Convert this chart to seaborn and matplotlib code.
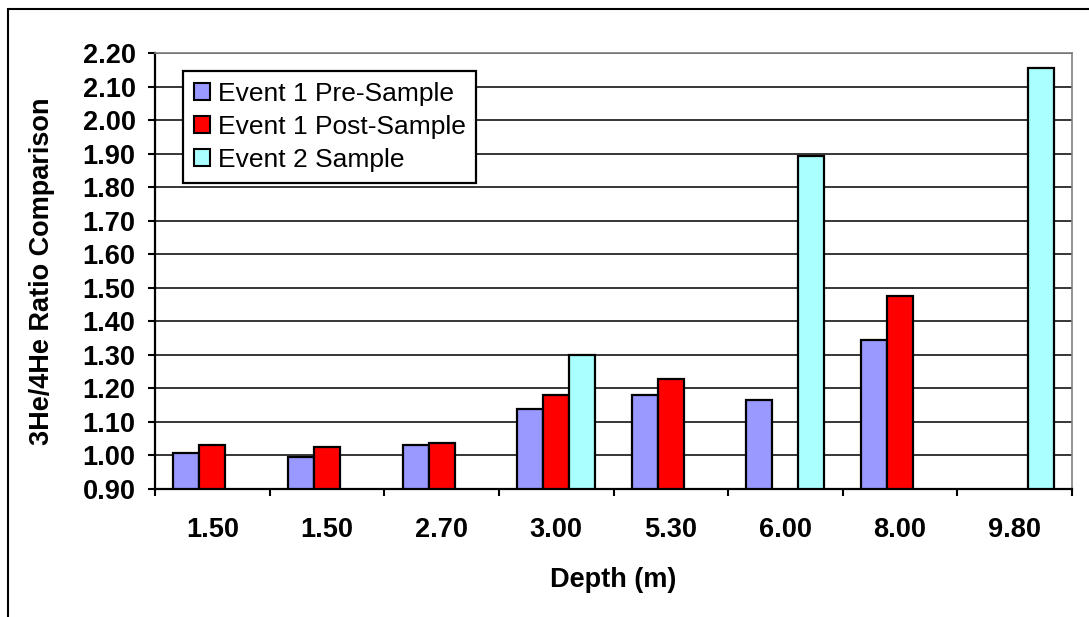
import pandas as pd
import seaborn as sns
import matplotlib.pyplot as plt
from matplotlib.patches import Rectangle

# chart data
depth_labels = ['1.50', '1.50', '2.70', '3.00', '5.30', '6.00', '8.00', '9.80']
series_names = ['Event 1 Pre-Sample', 'Event 1 Post-Sample', 'Event 2 Sample']
pre_sample = [1.006, 0.995, 1.030, 1.138, 1.180, 1.164, 1.343, None]
post_sample = [1.030, 1.024, 1.037, 1.181, 1.229, None, 1.474, None]
event2_sample = [None, None, None, 1.300, None, 1.892, None, 2.155]
colors = ['#9999FF', '#FF0000', '#AAFFFF']

rows = []
for name, vals in zip(series_names, [pre_sample, post_sample, event2_sample]):
    for i, v in enumerate(vals):
        rows.append({'slot': i, 'series': name, 'ratio': v})
df = pd.DataFrame(rows)
df['ratio'] = df['ratio'].astype('float64')

sns.set_style('white')
plt.rcParams['font.family'] = ['Liberation Sans', 'DejaVu Sans']
plt.rcParams['text.color'] = 'black'
plt.rcParams['axes.labelcolor'] = 'black'
plt.rcParams['xtick.color'] = 'black'
plt.rcParams['ytick.color'] = 'black'

fig = plt.figure(figsize=(10.89, 6.17), dpi=100)
ax = fig.add_axes([155 / 1089, 1 - 489 / 617, 917 / 1089, 436 / 617])

sns.barplot(data=df, x='slot', y='ratio', hue='series', hue_order=series_names,
            order=list(range(len(depth_labels))), palette=colors, errorbar=None,
            width=0.68, gap=0, edgecolor='black', linewidth=1.6, ax=ax, saturation=1)

ax.set_ylim(0.9, 2.2)
ax.set_xlim(-0.5, len(depth_labels) - 0.5)
ax.set_yticks([0.9 + 0.1 * i for i in range(14)])
ax.set_yticklabels(['%.2f' % (0.9 + 0.1 * i) for i in range(14)], fontsize=19.5, fontweight='bold')
ax.set_xticks(range(len(depth_labels)))
ax.set_xticklabels(depth_labels, fontsize=19.5, fontweight='bold')
ax.set_xticks([i - 0.5 for i in range(len(depth_labels) + 1)], minor=True)
ax.tick_params(axis='x', which='major', length=0, pad=20)
ax.tick_params(axis='x', which='minor', length=5, width=1.5, color='black', direction='out', bottom=True)
ax.tick_params(axis='y', length=5, width=1.5, color='black', direction='out', left=True, pad=9)

ax.yaxis.grid(True, color='black', linewidth=1.1)
ax.set_axisbelow(True)

for side in ['left', 'bottom']:
    ax.spines[side].set_color('black')
    ax.spines[side].set_linewidth(1.6)
for side in ['top', 'right']:
    ax.spines[side].set_color('#808080')
    ax.spines[side].set_linewidth(1.2)

ax.set_xlabel('Depth (m)', fontsize=19.5, fontweight='bold')
ax.set_ylabel('3He/4He Ratio Comparison', fontsize=19.5, fontweight='bold')
ax.xaxis.set_label_coords(0.5, -0.178)
ax.yaxis.set_label_coords(-0.109, 0.5)

leg = ax.legend(loc='upper left', bbox_to_anchor=(183 / 1089, 1 - 71 / 617),
                bbox_transform=fig.transFigure, fontsize=19, frameon=True, fancybox=False,
                handlelength=0.62, handleheight=0.62, handletextpad=0.3,
                labelspacing=0.35, borderpad=0.4, borderaxespad=0)
leg.get_frame().set_edgecolor('black')
leg.get_frame().set_linewidth(1.6)
leg.get_frame().set_alpha(1)
for h in leg.legend_handles:
    h.set_edgecolor('black')
    h.set_linewidth(1.5)

# outer chart frame (cut off at right and bottom)
fig.add_artist(Rectangle((8 / 1089, -0.1), 1.2, 1.1 - 9 / 617, transform=fig.transFigure,
                         fill=False, edgecolor='black', linewidth=1.5))

plt.savefig('out.png', dpi=100)
